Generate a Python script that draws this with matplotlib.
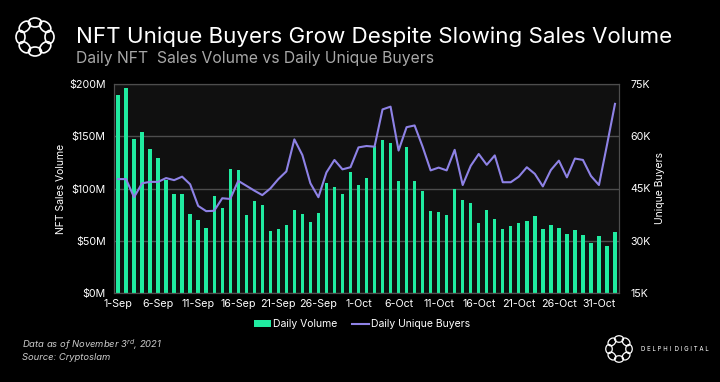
import matplotlib.pyplot as plt
import numpy as np
import pandas as pd
from matplotlib.patches import Ellipse

plt.rcParams['font.family'] = ['Inter', 'DejaVu Sans']

# Daily data, 1-Sep-2021 .. 2-Nov-2021
dates = pd.date_range('2021-09-01', '2021-11-02', freq='D')

# Daily NFT sales volume, $M
volume = [189.5, 196.0, 147.8, 153.8, 137.6, 129.3, 108.3, 94.6, 94.6, 75.5,
          69.8, 62.1, 93.3, 81.2, 118.5, 117.5, 74.8, 88.5, 84.4, 58.9,
          61.5, 65.0, 79.0, 75.5, 68.2, 76.4, 104.8, 101.0, 94.9, 115.9,
          103.5, 109.9, 141.1, 146.5, 143.3, 107.3, 139.8, 107.3, 97.8, 78.4,
          77.1, 74.8, 99.7, 88.9, 86.3, 66.9, 79.0, 70.7, 61.2, 63.7,
          66.9, 68.5, 73.9, 61.5, 65.0, 62.1, 56.4, 59.9, 55.1, 47.8,
          54.8, 45.2, 58.6]

# Daily unique buyers, thousands
buyers = [47.7, 47.7, 42.5, 46.5, 46.9, 46.9, 48.0, 47.4, 48.4, 46.2,
          40.0, 38.5, 38.6, 42.2, 42.0, 47.2, 45.8, 44.4, 43.1, 45.0,
          47.7, 49.9, 59.1, 54.6, 46.5, 42.5, 49.6, 53.2, 50.5, 51.1,
          56.8, 57.2, 57.0, 67.7, 68.5, 55.9, 62.6, 63.1, 57.0, 50.2,
          51.0, 50.2, 56.1, 46.0, 51.5, 54.9, 51.8, 54.5, 46.8, 46.8,
          48.4, 51.1, 49.2, 45.6, 50.3, 53.0, 48.2, 53.6, 53.2, 48.6,
          46.0, 57.5, 69.3]

vol_ticks = [0, 50, 100, 150, 200]
vol_labels = ['\\$0M', '\\$50M', '\\$100M', '\\$150M', '\\$200M']
buyer_ticks = [15, 30, 45, 60, 75]
buyer_labels = ['15K', '30K', '45K', '60K', '75K']
date_labels = [f'{d.day}-{d.strftime("%b")}' for d in dates]

GREEN = '#20EBA0'
PURPLE = '#8E82E6'
GRID = '#4d4d4d'

fig = plt.figure(figsize=(7.2, 3.82), dpi=100, facecolor='black')
ax = fig.add_axes([114 / 720, 1 - 293 / 382, 505 / 720, 209 / 382])
ax.set_facecolor('#101010')

x = np.arange(len(dates))
ax.bar(x, volume, width=0.42, color=GREEN, zorder=2, label='Daily Volume')
ax.set_xlim(-0.5, len(dates) - 0.5)
ax.set_ylim(0, 200)
ax.set_yticks(vol_ticks)
ax.set_yticklabels(vol_labels)
ax.set_xticks(x[::5])
ax.set_xticklabels(date_labels[::5])
ax.grid(axis='y', color=GRID, lw=1, zorder=1)
ax.set_axisbelow(True)
ax.tick_params(length=0, colors='white', labelsize=7.7)
ax.tick_params(axis='y', pad=6)
ax.tick_params(axis='x', pad=4)
ax.set_ylabel('NFT Sales Volume', color='white', fontsize=7.5, labelpad=2)
for s in ax.spines.values():
    s.set_color(GRID)

ax2 = ax.twinx()
ax2.plot(x, buyers, color=PURPLE, lw=1.5, label='Daily Unique Buyers')
ax2.set_ylim(15, 75)
ax2.set_yticks(buyer_ticks)
ax2.set_yticklabels(buyer_labels)
ax2.tick_params(length=0, colors='white', labelsize=7.7, pad=8)
ax2.set_ylabel('Unique Buyers', color='white', fontsize=7.5, labelpad=3)
for s in ax2.spines.values():
    s.set_color(GRID)

h1, l1 = ax.get_legend_handles_labels()
h2, l2 = ax2.get_legend_handles_labels()
fig.legend(h1 + h2, l1 + l2, loc='center', bbox_to_anchor=(362 / 720, 1 - 324 / 382),
           ncol=2, frameon=False, fontsize=7.5, labelcolor='white',
           handlelength=1.6, handleheight=0.6, handletextpad=0.2, columnspacing=1.4)

# titles
fig.text(76 / 720, 1 - 37 / 382, 'NFT Unique Buyers Grow Despite Slowing Sales Volume',
         color='white', fontsize=16.1, va='center', ha='left')
fig.text(76 / 720, 1 - 58 / 382, 'Daily NFT  Sales Volume vs Daily Unique Buyers',
         color='#a8a8a8', fontsize=11.3, va='center', ha='left')

# footer
fig.text(22 / 720, 1 - 345 / 382, r'Data as of November 3$^{rd}$, 2021',
         color='#cccccc', fontsize=6.8, style='italic', va='center')
fig.text(22 / 720, 1 - 357 / 382, 'Source: Cryptoslam',
         color='#cccccc', fontsize=6.8, style='italic', va='center')

# logos drawn in pixel coordinates
deco = fig.add_axes([0, 0, 1, 1], zorder=-1)
deco.set_xlim(0, 720)
deco.set_ylim(382, 0)
deco.axis('off')


def draw_logo(cx, cy, ring, w, h, lw):
    for a in np.arange(8) * np.pi / 4:
        ex = cx + ring * np.cos(a)
        ey = cy + ring * np.sin(a)
        deco.add_patch(Ellipse((ex, ey), w, h, angle=np.degrees(a) + 90,
                               fill=False, ec='white', lw=lw))


draw_logo(35, 37, 14.5, 13, 9, 1.2)
draw_logo(619, 349, 10, 9, 6.5, 0.9)
fig.text(641 / 720, 1 - 349 / 382, 'D E L P H I  D I G I T A L',
         color='white', fontsize=4.4, va='center', ha='left')

fig.savefig('out.png', dpi=100, facecolor='black')
